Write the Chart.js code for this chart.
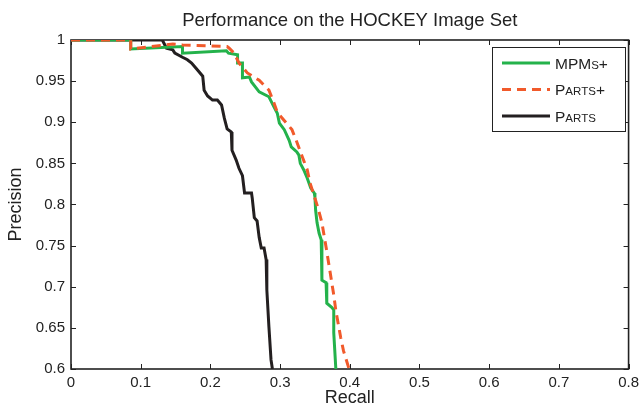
<!DOCTYPE html>
<html><head><meta charset="utf-8">
<script src="https://cdn.jsdelivr.net/npm/chart.js@4/dist/chart.umd.min.js"></script>
<style>html,body{margin:0;padding:0;background:#fff;}canvas{display:block;}</style>
</head><body>
<canvas id="c" width="644" height="412"></canvas>
<script>
const chartTitle = 'Performance on the HOCKEY Image Set';
const xTitle = 'Recall';
const yTitle = 'Precision';
const xTickValues = [0, 0.1, 0.2, 0.3, 0.4, 0.5, 0.6, 0.7, 0.8];
const xTickLabels = ['0', '0.1', '0.2', '0.3', '0.4', '0.5', '0.6', '0.7', '0.8'];
const yTickValues = [0.6, 0.65, 0.7, 0.75, 0.8, 0.85, 0.9, 0.95, 1];
const yTickLabels = ['0.6', '0.65', '0.7', '0.75', '0.8', '0.85', '0.9', '0.95', '1'];
const seriesNames = ['MPMs+', 'Parts+', 'Parts'];

const mpmsRecall = [0, 0.0857, 0.0857, 0.16, 0.16, 0.223, 0.226, 0.239, 0.239, 0.246, 0.246, 0.256, 0.259, 0.27, 0.284, 0.291, 0.296, 0.299, 0.306, 0.313, 0.316, 0.324, 0.327, 0.329, 0.334, 0.339, 0.344, 0.349, 0.35, 0.351, 0.353, 0.356, 0.359, 0.36, 0.36, 0.366, 0.367, 0.374, 0.377, 0.377, 0.38];
const mpmsPrecision = [1, 1, 0.989, 0.992, 0.984, 0.987, 0.984, 0.982, 0.972, 0.972, 0.954, 0.955, 0.949, 0.937, 0.931, 0.919, 0.911, 0.899, 0.891, 0.878, 0.870, 0.864, 0.860, 0.850, 0.842, 0.832, 0.820, 0.814, 0.809, 0.793, 0.778, 0.765, 0.757, 0.741, 0.708, 0.705, 0.680, 0.675, 0.672, 0.644, 0.6];

const partsPlusRecall = [0, 0.0857, 0.0857, 0.146, 0.16, 0.224, 0.227, 0.234, 0.241, 0.253, 0.27, 0.284, 0.291, 0.296, 0.309, 0.317, 0.324, 0.331, 0.339, 0.343, 0.349, 0.354, 0.36, 0.363, 0.366, 0.37, 0.377, 0.380, 0.387, 0.391, 0.399];
const partsPlusPrecision = [1, 1, 0.989, 0.995, 0.994, 0.992, 0.99, 0.984, 0.972, 0.960, 0.951, 0.939, 0.924, 0.912, 0.899, 0.891, 0.876, 0.86, 0.842, 0.826, 0.81, 0.797, 0.778, 0.763, 0.748, 0.727, 0.69, 0.671, 0.638, 0.622, 0.6];

const partsRecall = [0, 0.131, 0.137, 0.146, 0.149, 0.16, 0.167, 0.173, 0.18, 0.189, 0.191, 0.196, 0.203, 0.21, 0.216, 0.22, 0.224, 0.23, 0.231, 0.237, 0.241, 0.246, 0.249, 0.259, 0.26, 0.263, 0.267, 0.27, 0.273, 0.277, 0.28, 0.281, 0.284, 0.287, 0.289];
const partsPrecision = [1, 1, 0.990, 0.988, 0.984, 0.979, 0.976, 0.972, 0.965, 0.956, 0.939, 0.932, 0.927, 0.927, 0.921, 0.905, 0.892, 0.888, 0.866, 0.854, 0.844, 0.835, 0.814, 0.814, 0.808, 0.784, 0.78, 0.76, 0.747, 0.747, 0.733, 0.696, 0.651, 0.611, 0.6];

const seriesColors = ['#24b24b', '#f15a2b', '#231f20'];
const seriesDash = [[], [9, 6], []];

function pts(xs, ys) { return xs.map((x, i) => ({ x: x, y: ys[i] })); }

const FONT = '"Liberation Sans", Arial, Helvetica, sans-serif';
const INK = '#222222';

const frameAndTicks = {
  id: 'frameAndTicks',
  beforeDatasetsDraw(chart) {
    const { ctx, chartArea: a, scales } = chart;
    ctx.save();
    ctx.strokeStyle = INK;
    ctx.lineWidth = 1;
    const L = 5;
    ctx.beginPath();
    xTickValues.forEach(v => {
      const px = Math.round(scales.x.getPixelForValue(v)) + 0.5;
      ctx.moveTo(px, a.bottom); ctx.lineTo(px, a.bottom - L);
      ctx.moveTo(px, a.top); ctx.lineTo(px, a.top + L);
    });
    yTickValues.forEach(v => {
      const py = Math.round(scales.y.getPixelForValue(v)) + 0.5;
      ctx.moveTo(a.left, py); ctx.lineTo(a.left + L, py);
      ctx.moveTo(a.right, py); ctx.lineTo(a.right - L, py);
    });
    ctx.stroke();
    ctx.lineWidth = 1.6;
    ctx.strokeRect(a.left, a.top, a.right - a.left, a.bottom - a.top);
    ctx.fillStyle = INK;
    ctx.font = '18.5px ' + FONT;
    ctx.textAlign = 'center';
    ctx.textBaseline = 'middle';
    ctx.fillText(chartTitle, (a.left + a.right) / 2, 21);
    ctx.restore();
  }
};

const smallCapsLegend = {
  id: 'smallCapsLegend',
  afterDraw(chart) {
    const { ctx } = chart;
    const bx = 492, by = 47, bw = 133, bh = 84;
    ctx.save();
    ctx.fillStyle = '#ffffff';
    ctx.fillRect(bx, by, bw, bh);
    ctx.strokeStyle = INK;
    ctx.lineWidth = 1;
    ctx.strokeRect(bx + 0.5, by + 0.5, bw, bh);
    chart.data.datasets.forEach((ds, i) => {
      const y = 63 + i * 26.5;
      ctx.strokeStyle = ds.borderColor;
      ctx.lineWidth = 3;
      ctx.setLineDash(ds.borderDash || []);
      ctx.beginPath();
      ctx.moveTo(502, y); ctx.lineTo(550, y);
      ctx.stroke();
      ctx.setLineDash([]);
      let x = 555;
      ctx.fillStyle = INK;
      ctx.textAlign = 'left';
      ctx.textBaseline = 'alphabetic';
      for (const ch of ds.label) {
        const lower = ch !== ch.toUpperCase();
        ctx.font = (lower ? '11.5px ' : '15.5px ') + FONT;
        const c = ch.toUpperCase();
        ctx.fillText(c, x, y + 5.5);
        x += ctx.measureText(c).width;
      }
    });
    ctx.restore();
  }
};

new Chart(document.getElementById('c'), {
  type: 'line',
  data: {
    datasets: [
      { label: seriesNames[0], data: pts(mpmsRecall, mpmsPrecision), borderColor: seriesColors[0], borderDash: seriesDash[0], order: 2 },
      { label: seriesNames[1], data: pts(partsPlusRecall, partsPlusPrecision), borderColor: seriesColors[1], borderDash: seriesDash[1], order: 1 },
      { label: seriesNames[2], data: pts(partsRecall, partsPrecision), borderColor: seriesColors[2], borderDash: seriesDash[2], order: 3 }
    ].map(d => Object.assign(d, { borderWidth: 3, pointRadius: 0, tension: 0, fill: false, borderJoinStyle: 'miter' }))
  },
  options: {
    responsive: false,
    animation: false,
    devicePixelRatio: 1,
    layout: { padding: { top: 40, right: 13, left: 0, bottom: 0 } },
    plugins: { legend: { display: false }, title: { display: false }, tooltip: { enabled: false } },
    scales: {
      x: {
        type: 'linear', min: 0, max: 0.8,
        afterBuildTicks: s => { s.ticks = xTickValues.map(v => ({ value: v })); },
        afterFit: s => { s.height = 43; },
        grid: { display: false, drawTicks: false },
        border: { display: false },
        ticks: { color: INK, font: { family: FONT, size: 15 }, padding: 5, maxRotation: 0, autoSkip: false,
          callback: (v, i) => xTickLabels[i] },
        title: { display: true, text: xTitle, color: INK, font: { family: FONT, size: 18 }, padding: 3 }
      },
      y: {
        type: 'linear', min: 0.6, max: 1,
        afterBuildTicks: s => { s.ticks = yTickValues.map(v => ({ value: v })); },
        afterFit: s => { s.width = 71; },
        grid: { display: false, drawTicks: false },
        border: { display: false },
        ticks: { color: INK, font: { family: FONT, size: 15 }, padding: 6, autoSkip: false,
          callback: (v, i) => yTickLabels[i] },
        title: { display: true, text: yTitle, color: INK, font: { family: FONT, size: 18 }, padding: 5 }
      }
    }
  },
  plugins: [frameAndTicks, smallCapsLegend]
});
</script>
</body></html>
